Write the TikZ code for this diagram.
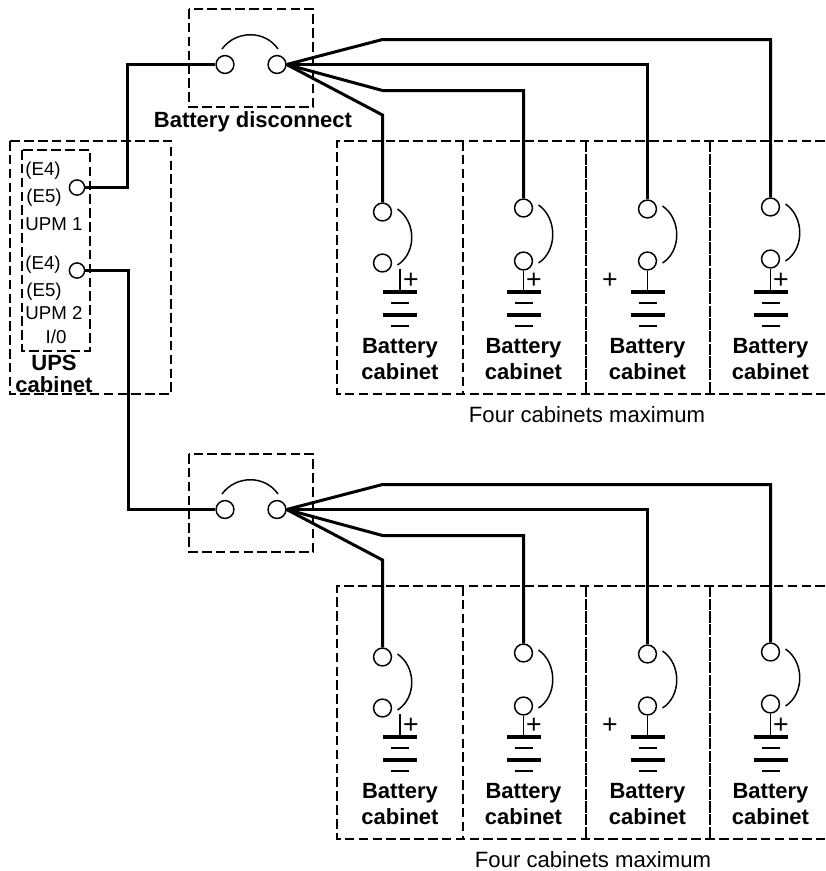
\documentclass[tikz,border=0pt]{standalone}
\usepackage{fontspec}
\setmainfont{Liberation Sans}
\tikzset{
  term/.style={circle,draw,line width=1.1pt,fill=white,minimum size=13.4pt,inner sep=0pt},
  upsterm/.style={term,minimum size=11.4pt},
  wire/.style={line width=2.25pt,line join=miter},
  thinwire/.style={line width=1.1pt},
  bigplate/.style={line width=2.6pt},
  smallplate/.style={line width=1.3pt},
  boxdash/.style={line width=1.1pt,dash pattern=on 7.2pt off 3.2pt},
  finedash/.style={line width=1.1pt,dash pattern=on 8.5pt off 1pt},
  lab/.style={inner sep=0pt,font=\fontsize{14}{16}\selectfont},
  pluslab/.style={inner sep=0pt,font=\fontsize{20}{22}\selectfont},
  boldlab/.style={inner sep=0pt,font=\fontsize{16.5}{18}\selectfont\bfseries},
  notelab/.style={inner sep=0pt,font=\fontsize{16.6}{18}\selectfont}
}
% one cabinet: name, terminal x, upper y, lower y, battery x, plus x
\newcommand{\cabinet}[6]{
  \node[term] (#1a) at (#2,#3) {};
  \node[term] (#1b) at (#2,#4) {};
  \draw[thinwire] (#2+15,#3-3) .. controls (#2+34,#3+10) and (#2+34,#4-10) .. (#2+15,#4+2);
  \coordinate (#1p) at (#5,292);
  \draw[bigplate] (#5-17,292) -- (#5+17,292);
  \draw[smallplate] (#5-9,303) -- (#5+9,303);
  \draw[bigplate] (#5-17,315) -- (#5+17,315);
  \draw[smallplate] (#5-9,326) -- (#5+9,326);
  \node[pluslab] (#1plus) at (#6,281) {+};
  \node[boldlab] (#1t) at (#5,348) {Battery};
  \node[boldlab] (#1u) at (#5,372) {cabinet};
}
\begin{document}
\begin{tikzpicture}[x=0.75pt,y=-0.75pt]
  \useasboundingbox (0,0) rectangle (825,871);
  % UPS cabinet
  \draw[boxdash] (10,141) rectangle (171,394);
  \draw[boxdash] (22,150) rectangle (90,351);
  \node[lab] (e4a) at (43,171) {(E4)};
  \node[lab] (e5a) at (44,198) {(E5)};
  \node[lab] (upma) at (54,224) {UPM 1};
  \node[lab] (e4b) at (43,265) {(E4)};
  \node[lab] (e5b) at (44,292) {(E5)};
  \node[lab] (upmb) at (54,313) {UPM 2};
  \node[lab] (io) at (56,337) {I/0};
  \node[boldlab] (ups) at (54,362.5) {UPS};
  \node[boldlab] (upscab) at (54,384.5) {cabinet};
  \node[upsterm] (upm1) at (77,187.5) {};
  \node[upsterm] (upm2) at (77,270.5) {};
  % two banks
  \foreach \b/\dy/\fx in {t/0/587,l/445/593}{
    \begin{scope}[shift={(0,\dy)}]
      \draw[boxdash] (189,9) rectangle (313,107);
      \node[term] (\b sa) at (225,64.5) {};
      \node[term] (\b sb) at (277,64.5) {};
      \draw[thinwire] (222,49) .. controls (236,30) and (265,30) .. (278,49);
      \coordinate (\b q1) at (382.5,39.5);
      \coordinate (\b q3) at (382.5,90.5);
      \coordinate (\b q4) at (382.5,115);
      \draw[boxdash] (825,141) -- (337,141) -- (337,394) -- (825,394);
      \draw[boxdash] (463,141) -- (463,394);
      \draw[finedash] (586,141) -- (586,394);
      \draw[finedash] (710,141) -- (710,394);
      \cabinet{\b c1}{382.5}{212}{263}{400}{411}
      \cabinet{\b c2}{523.5}{208}{261}{523.5}{534}
      \cabinet{\b c3}{647.5}{209}{261}{647.5}{610}
      \cabinet{\b c4}{770.5}{207}{259}{770.5}{781}
      \draw[thinwire] (400,269) -- (\b c1p);
      \draw[thinwire] (\b c2b) -- (\b c2p);
      \draw[thinwire] (\b c3b) -- (\b c3p);
      \draw[thinwire] (\b c4b) -- (\b c4p);
      \draw[wire] (\b sb.east) -- (\b q1) -| (\b c4a);
      \draw[wire] (\b sb.east) -| (\b c3a);
      \draw[wire] (\b sb.east) -- (\b q3) -| (\b c2a);
      \draw[wire] (\b sb.east) -- (\b q4) -- (\b c1a);
      \node[notelab] (\b four) at (\fx,415) {Four cabinets maximum};
    \end{scope}
  }
  \node[boldlab] (disc) at (253,122) {Battery disconnect};
  \draw[wire] (upm1) -| (127.5,64.5) -- (tsa);
  \draw[wire] (upm2) -| (128.5,509.5) -- (lsa);
\end{tikzpicture}
\end{document}
